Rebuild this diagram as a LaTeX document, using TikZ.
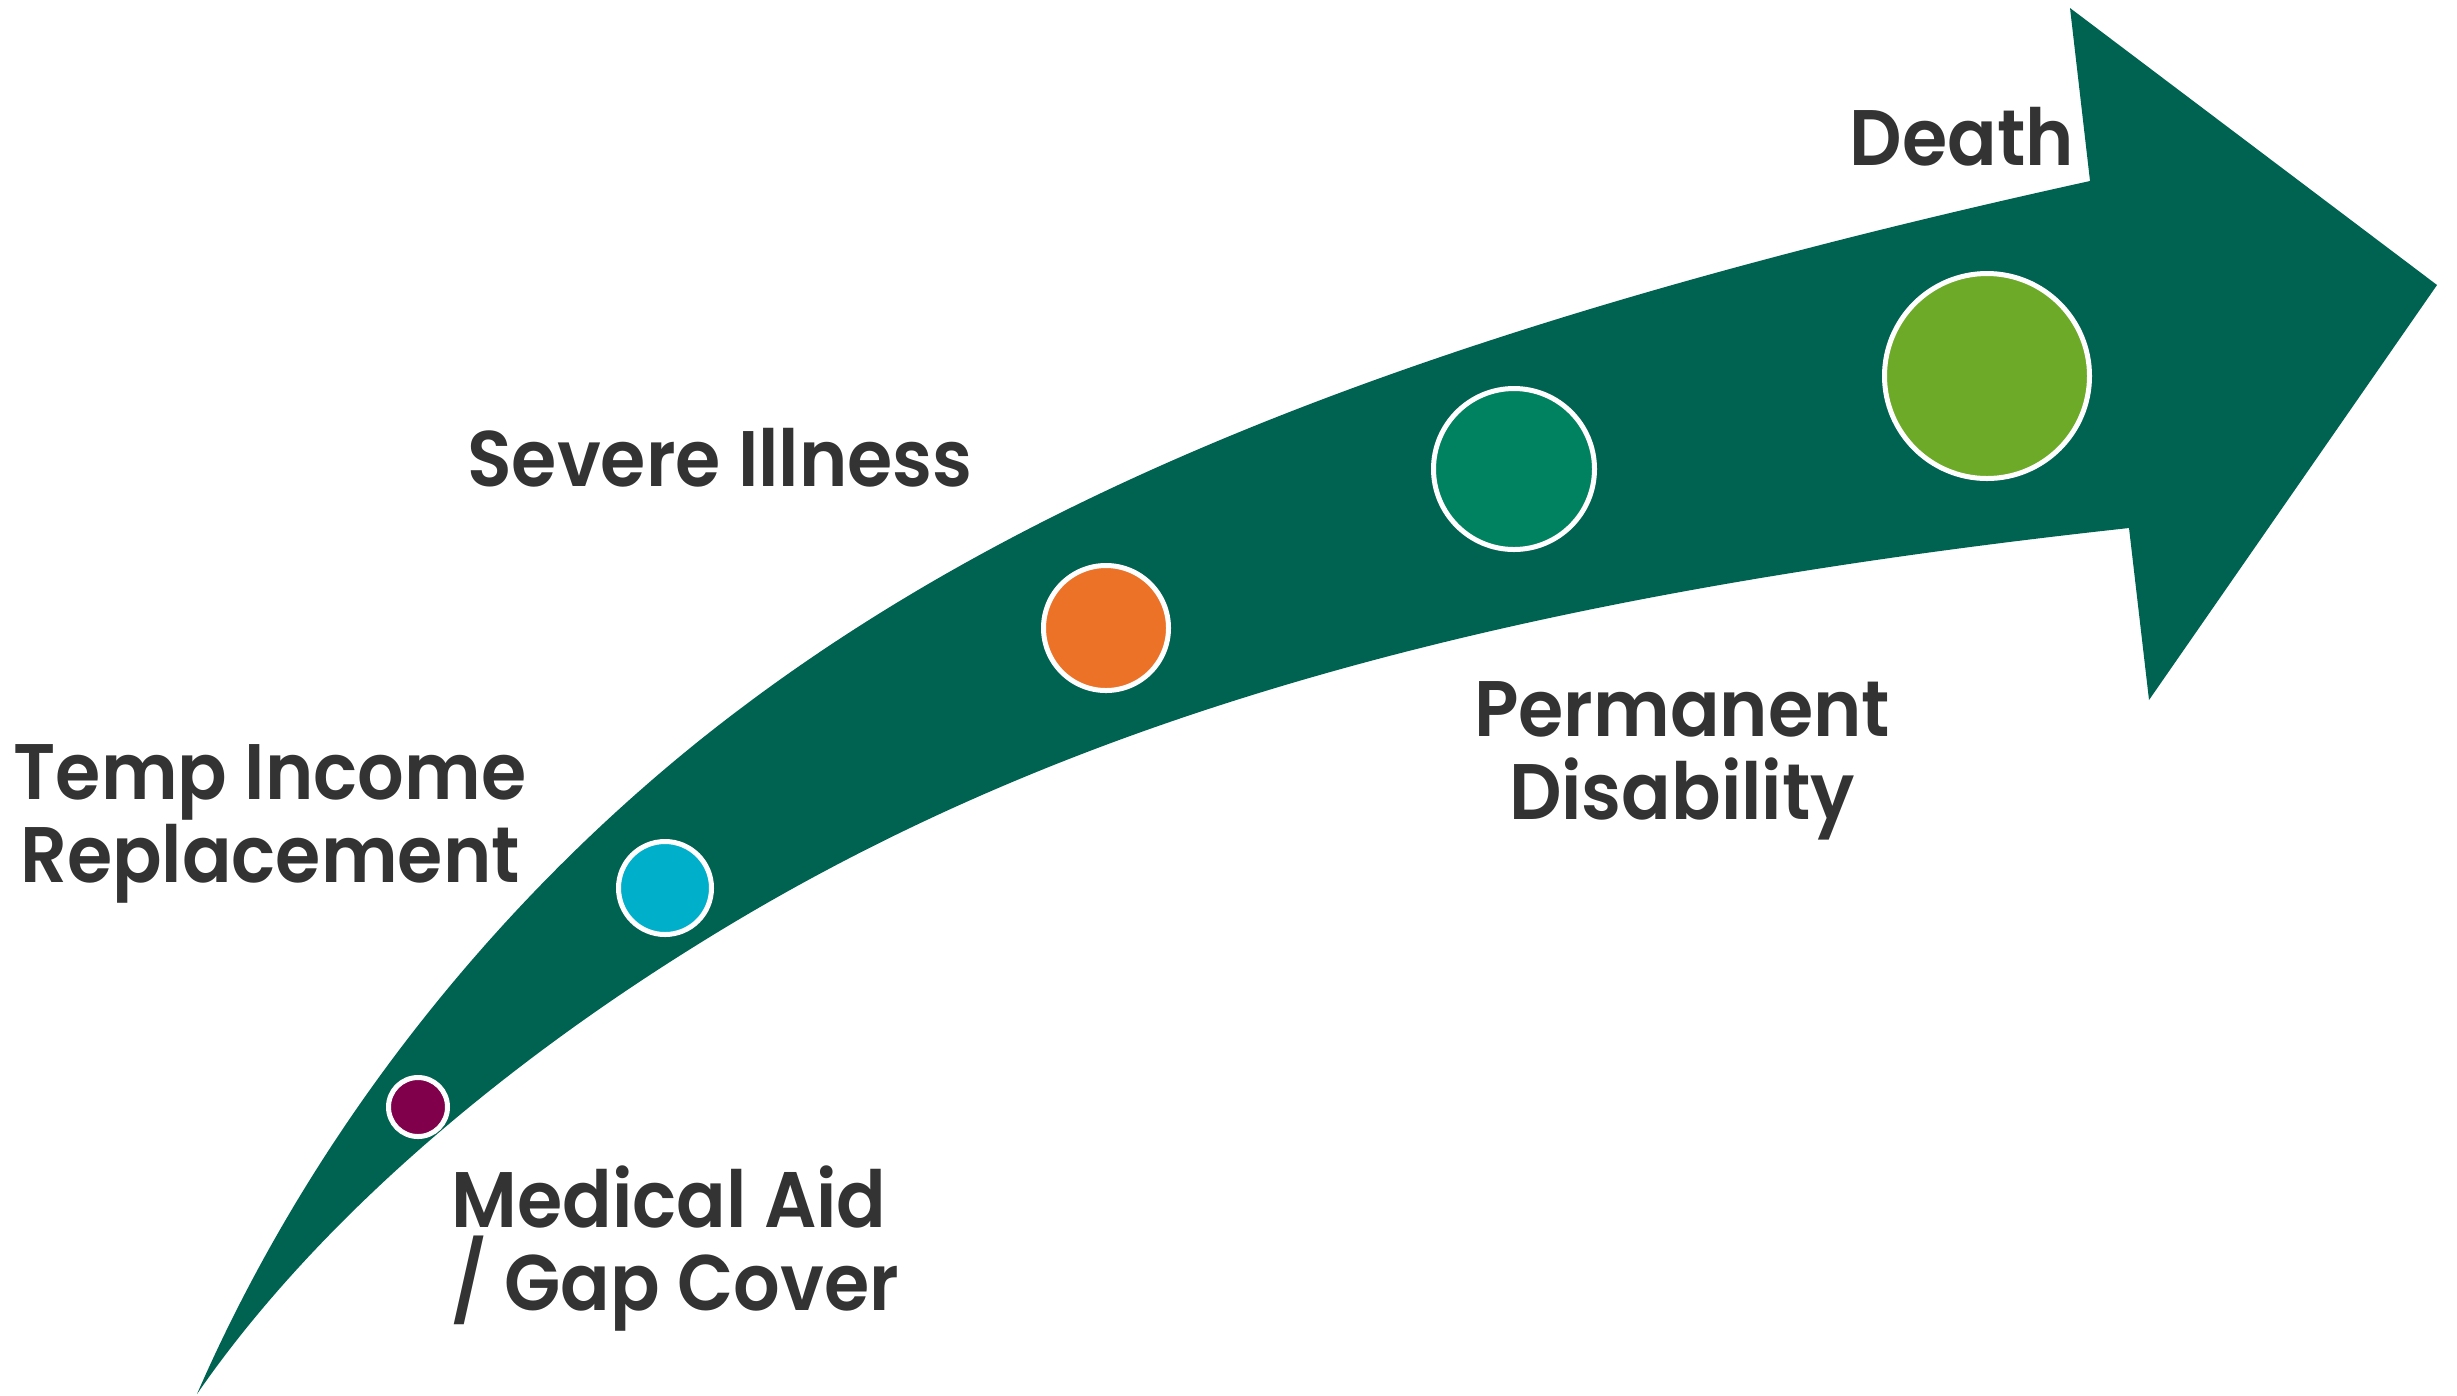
\documentclass[tikz,border=0pt]{standalone}
\usepackage{fontspec}
\setmainfont{Poppins}[BoldFont={Poppins SemiBold},BoldFeatures={FakeStretch=0.93}]
\usepackage{tikz}

\definecolor{arrowgreen}{RGB}{0,99,81}
\definecolor{dotpurple}{RGB}{128,0,75}
\definecolor{dotcyan}{RGB}{0,176,202}
\definecolor{dotorange}{RGB}{236,114,40}
\definecolor{dotteal}{RGB}{0,130,96}
\definecolor{dotlime}{RGB}{108,170,39}
\definecolor{labelgray}{RGB}{51,51,51}

\begin{document}
\begin{tikzpicture}[x=0.1mm,y=-0.1mm,
  dot/.style={circle,draw=white,line width=0.5mm,inner sep=0pt},
  lbl/.style={inner sep=0pt,text=labelgray,font=\bfseries\fontsize{22.4}{23.4}\selectfont}]
\useasboundingbox (0,0) rectangle (2457,1395);

%strelica
\fill[arrowgreen] (197,1394) .. controls (306,1144) and (482,915) .. (700,740)
  .. controls (1005,496) and (1422,328) .. (2090,181)
  -- (2070,8) -- (2437,285) -- (2149,700) -- (2129,528)
  .. controls (1479,599) and (1054,723) .. (700,943)
  .. controls (482,1078) and (306,1236) .. cycle;

%krugovi
\node[dot,fill=dotpurple,minimum size=5.9mm] (medicaldot) at (418,1107) {};
\node[dot,fill=dotcyan,minimum size=9.3mm] (tempdot) at (665,888) {};
\node[dot,fill=dotorange,minimum size=12.5mm] (severedot) at (1106,628) {};
\node[dot,fill=dotteal,minimum size=16.1mm] (permdot) at (1514,469) {};
\node[dot,fill=dotlime,minimum size=20.5mm] (deathdot) at (1987,376) {};

%natpisi
\node[lbl,anchor=base west,align=left] (medical) at (451,1310) {Medical Aid\\/ Gap Cover};
\node[lbl,anchor=base,align=center] (temp) at (270,882) {Temp Income\\Replacement};
\node[lbl,anchor=base] (severe) at (720,486) {Severe Illness};
\node[lbl,anchor=base,align=center] (perm) at (1682,819) {Permanent\\Disability};
\node[lbl,anchor=base west] (death) at (1849,165) {Death};

\end{tikzpicture}
\end{document}
